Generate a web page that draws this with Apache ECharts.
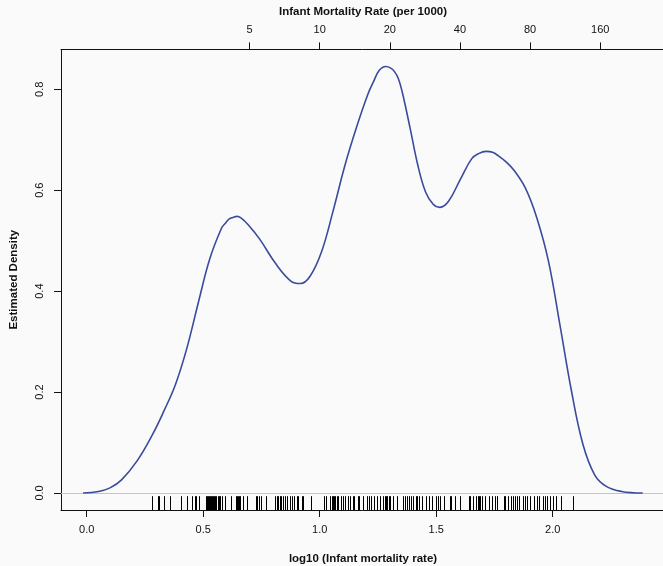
<!DOCTYPE html>
<html>
<head>
<meta charset="utf-8">
<script src="https://cdn.jsdelivr.net/npm/echarts@6/dist/echarts.min.js"></script>
<style>
html,body{margin:0;padding:0;background:#fafafa;}
#chart{width:663px;height:566px;}
</style>
</head>
<body>
<div id="chart"></div>
<script>
// Density estimate of log10(infant mortality rate)
const densityX = [-0.0155, 0.0505, 0.100, 0.1495, 0.2155, 0.2816, 0.331, 0.381, 0.430, 0.480, 0.529, 0.579, 0.596, 0.612, 0.628, 0.645, 0.662, 0.694, 0.744, 0.810, 0.876, 0.917, 0.958, 1.008, 1.057, 1.107, 1.157, 1.206, 1.231, 1.255, 1.284, 1.305, 1.321, 1.337, 1.354, 1.388, 1.421, 1.454, 1.487, 1.516, 1.553, 1.602, 1.652, 1.684, 1.714, 1.742, 1.767, 1.800, 1.833, 1.883, 1.932, 1.982, 2.031, 2.081, 2.130, 2.180, 2.230, 2.295, 2.386];
const densityY = [0.000, 0.003, 0.010, 0.026, 0.063, 0.115, 0.162, 0.215, 0.287, 0.379, 0.465, 0.525, 0.535, 0.543, 0.546, 0.548, 0.545, 0.531, 0.502, 0.455, 0.420, 0.415, 0.429, 0.478, 0.558, 0.647, 0.723, 0.789, 0.815, 0.837, 0.845, 0.842, 0.835, 0.822, 0.795, 0.723, 0.650, 0.597, 0.572, 0.566, 0.578, 0.620, 0.662, 0.673, 0.677, 0.675, 0.668, 0.656, 0.640, 0.604, 0.545, 0.459, 0.333, 0.201, 0.096, 0.036, 0.013, 0.003, 0.000];

// Rug: observed log10 infant mortality values
const rugValues = [0.282, 0.306, 0.310, 0.332, 0.359, 0.403, 0.432, 0.451, 0.466, 0.470, 0.481, 0.513, 0.518, 0.522, 0.526, 0.530, 0.535, 0.539, 0.543, 0.548, 0.552, 0.556, 0.562, 0.567, 0.571,
  0.581, 0.592, 0.618, 0.641, 0.645, 0.649, 0.654, 0.658, 0.671, 0.689, 0.725, 0.732, 0.741, 0.749, 0.771, 0.809, 0.817, 0.823, 0.830, 0.836, 0.843, 0.850, 0.861, 0.873,
  0.881, 0.888, 0.901, 0.908, 0.923, 0.930, 0.963, 1.020, 1.027, 1.045, 1.052, 1.057, 1.063, 1.067, 1.074, 1.080, 1.091, 1.100, 1.110, 1.120, 1.131, 1.143, 1.149, 1.163, 1.170, 1.185,
  1.202, 1.210, 1.221, 1.233, 1.245, 1.259, 1.272, 1.279, 1.285, 1.290, 1.296, 1.302, 1.316, 1.333, 1.359, 1.367, 1.376, 1.383, 1.391, 1.402, 1.412, 1.419, 1.426, 1.440, 1.455, 1.469, 1.483, 1.498,
  1.508, 1.515, 1.532, 1.558, 1.564, 1.582, 1.603, 1.639, 1.646, 1.658, 1.672, 1.678, 1.685, 1.689, 1.697, 1.711, 1.725, 1.740, 1.754, 1.761, 1.790, 1.797, 1.807,
  1.821, 1.828, 1.837, 1.845, 1.857, 1.871, 1.880, 1.891, 1.903, 1.920, 1.931, 1.940, 1.960, 1.968, 1.977, 1.988, 2.000, 2.013, 2.036, 2.088];

// Tick labels
const bottomTicks = [0, 0.5, 1.0, 1.5, 2.0];
const leftTicks = [0, 0.2, 0.4, 0.6, 0.8];
const topTickLabels = [5, 10, 20, 40, 80, 160];

const X_MIN = -0.1103, X_MAX = 2.482;
const Y_MIN = -0.0338, Y_MAX = 0.879;

const topTicks = topTickLabels.map(v => Math.log10(v));

const chart = echarts.init(document.getElementById('chart'), null, {renderer: 'canvas'});
const FONT = '"Liberation Sans", Arial, Helvetica, sans-serif';
const axisLineStyle = {color: '#111', width: 1};

chart.setOption({
  backgroundColor: '#fafafa',
  animation: false,
  textStyle: {fontFamily: FONT},
  grid: {left: 61, top: 49.4, width: 604, height: 460.6, containLabel: false, outerBoundsMode: 'none'},
  xAxis: [{
    type: 'value', position: 'bottom', min: X_MIN, max: X_MAX,
    axisLine: {show: true, onZero: false, lineStyle: axisLineStyle},
    axisTick: {show: true, length: 7, lineStyle: axisLineStyle, customValues: bottomTicks},
    axisLabel: {customValues: bottomTicks, formatter: v => v.toFixed(1), margin: 14, fontSize: 11, color: '#111', fontFamily: FONT},
    splitLine: {show: false},
    name: 'log10 (Infant mortality rate)', nameLocation: 'middle', nameGap: 43,
    nameTextStyle: {fontWeight: 'bold', fontSize: 11.5, color: '#111', fontFamily: FONT}
  }, {
    type: 'value', position: 'top', min: X_MIN, max: X_MAX,
    axisLine: {show: true, onZero: false, lineStyle: axisLineStyle},
    axisTick: {show: true, length: 7, lineStyle: axisLineStyle, customValues: topTicks},
    axisLabel: {customValues: topTicks, formatter: v => String(Math.round(Math.pow(10, v))), margin: 14, fontSize: 11, color: '#111', fontFamily: FONT},
    splitLine: {show: false},
    name: 'Infant Mortality Rate (per 1000)', nameLocation: 'middle', nameGap: 32,
    nameTextStyle: {fontWeight: 'bold', fontSize: 11.5, color: '#111', fontFamily: FONT}
  }],
  yAxis: [{
    type: 'value', min: Y_MIN, max: Y_MAX,
    axisLine: {show: true, onZero: false, lineStyle: axisLineStyle},
    axisTick: {show: true, length: 7, lineStyle: axisLineStyle, customValues: leftTicks},
    axisLabel: {customValues: leftTicks, formatter: v => v.toFixed(1), rotate: 90, margin: 16, fontSize: 11, color: '#111', fontFamily: FONT},
    splitLine: {show: false},
    name: 'Estimated Density', nameLocation: 'middle', nameGap: 41, nameRotate: 90,
    nameTextStyle: {fontWeight: 'bold', fontSize: 11.5, color: '#111', fontFamily: FONT}
  }],
  series: [{
    type: 'line',
    xAxisIndex: 0, yAxisIndex: 0,
    data: densityX.map((x, i) => [x, densityY[i]]),
    smooth: 0.4,
    showSymbol: false,
    lineStyle: {color: '#3a4b9c', width: 1.6},
    markLine: {
      silent: true, symbol: ['none', 'none'], label: {show: false},
      lineStyle: {color: '#c4c4c4', type: 'solid', width: 1},
      data: [{yAxis: 0}],
      z: 1
    },
    z: 3
  }, {
    type: 'custom',
    xAxisIndex: 0, yAxisIndex: 0,
    data: rugValues.map(v => [v]),
    renderItem: function (params, api) {
      const x = api.value(0);
      const p0 = api.coord([x, Y_MIN]);
      const p1 = api.coord([x, Y_MIN + 0.03 * (Y_MAX - Y_MIN)]);
      const px = Math.round(p0[0]) + 0.5;
      return {type: 'line', shape: {x1: px, y1: p0[1], x2: px, y2: p1[1]}, style: {stroke: '#000', lineWidth: 1}};
    },
    z: 4
  }]
});
</script>
</body>
</html>
